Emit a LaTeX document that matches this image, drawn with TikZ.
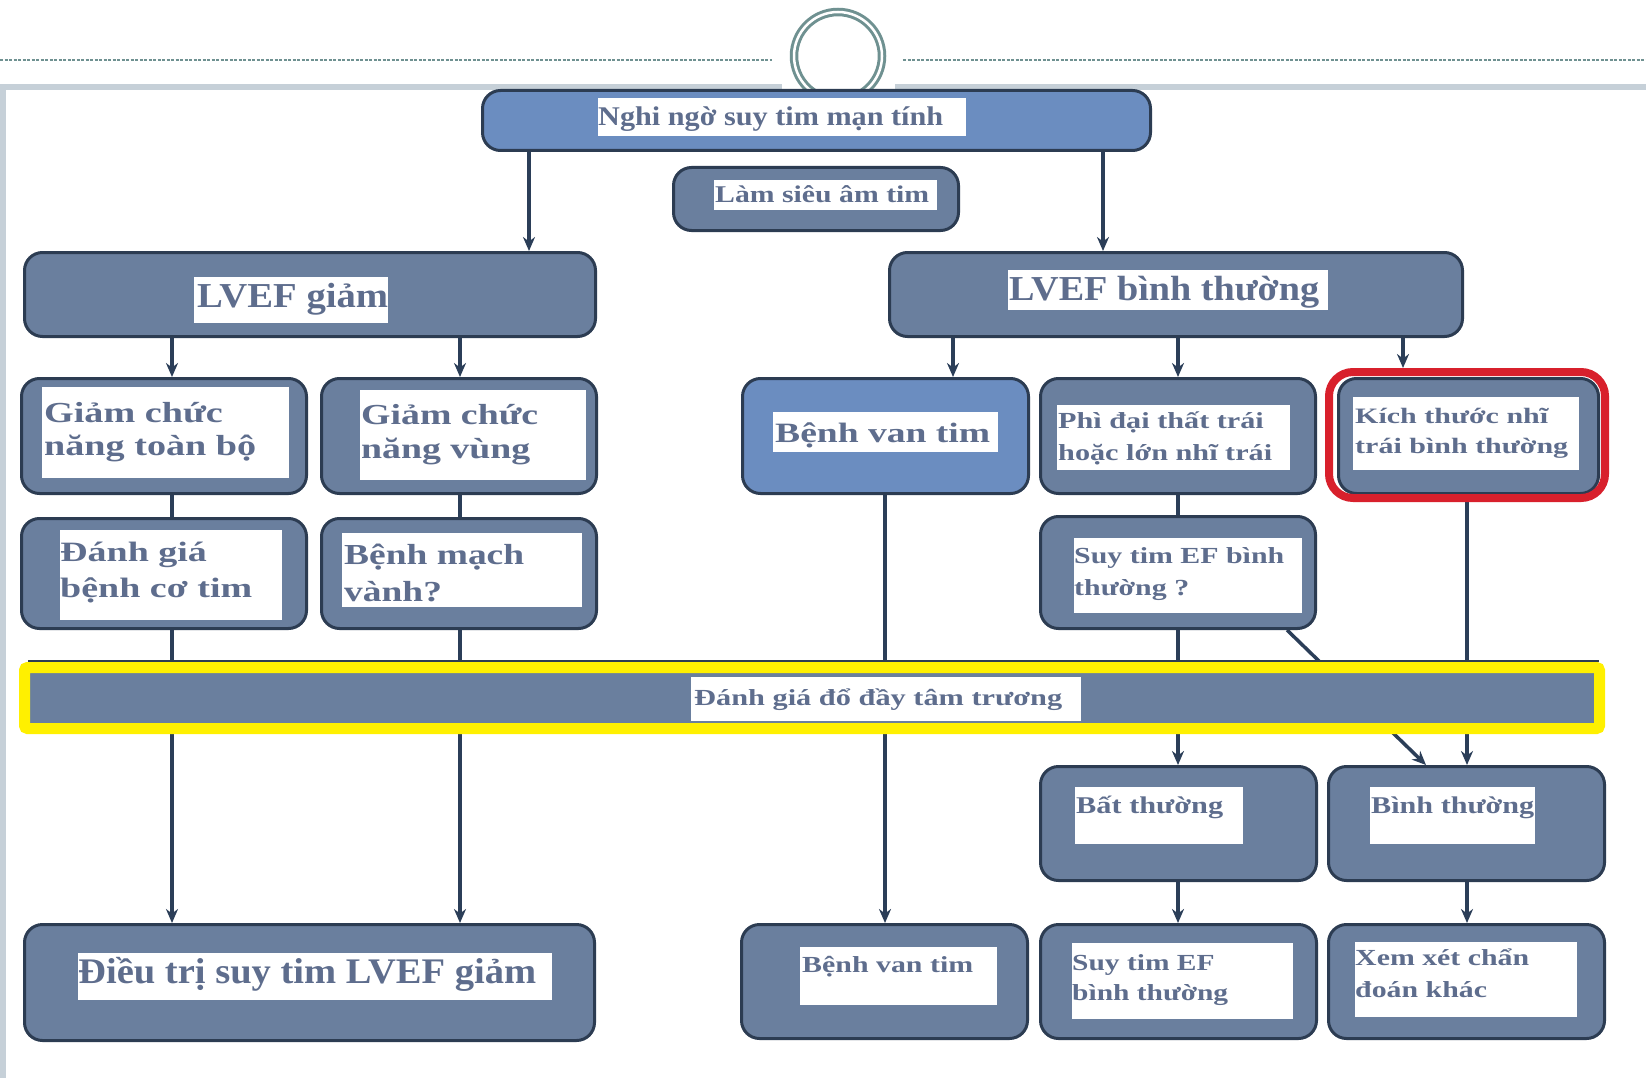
\documentclass[tikz,border=0pt]{standalone}
\usepackage{fontspec}
\setmainfont{Liberation Serif}
\usepackage{graphicx}
\usetikzlibrary{arrows.meta}
\pgfdeclarelayer{back}
\pgfdeclarelayer{bg}
\pgfsetlayers{back,bg,main}
\definecolor{slate}{HTML}{6A7F9E}
\definecolor{lblue}{HTML}{6B8DC0}
\definecolor{bord}{HTML}{2C3C52}
\definecolor{navy}{HTML}{2B3E58}
\definecolor{txtc}{HTML}{5E6D8D}
\definecolor{ringc}{HTML}{6F9191}
\definecolor{bandc}{HTML}{C6D0D8}
\definecolor{ylw}{HTML}{FFF000}
\definecolor{redc}{HTML}{D8202C}
\newcommand\lbl[4]{\resizebox{#3pt}{\height}{\fontsize{#1pt}{#2pt}\selectfont\bfseries\begin{tabular}[t]{@{}l@{}}#4\end{tabular}}}
\begin{document}
\begin{tikzpicture}[x=1pt,y=-1pt,
  sbox/.style={draw=bord, line width=3pt, fill=slate, rounded corners=18pt, inner sep=0pt},
  lbox/.style={sbox, fill=lblue},
  wrect/.style={fill=white, inner sep=0pt},
  lab/.style={anchor=base west, inner sep=0pt, text=txtc},
  arr/.style={draw=navy, line width=3.5pt, -{Stealth[length=14pt,width=12pt]}},
  ln/.style={draw=navy, line width=3.5pt},
  decodash/.style={draw=ringc, line width=1.8pt, dash pattern=on 3pt off 1.5pt},
]
\begin{pgfonlayer}{back}
\fill[white] (0,0) rectangle (1646,1078);
\end{pgfonlayer}
\useasboundingbox (0,0) rectangle (1646,1078);
% slide decoration
\draw[decodash] (0,60) -- (772,60);
\draw[decodash] (903,60) -- (1646,60);
\fill[bandc] (0,84) rectangle (782,90);
\fill[bandc] (895,84) rectangle (1646,90);
\fill[bandc] (0,84) rectangle (6,1078);
\node[circle, draw=ringc, double=white, double distance=2.5pt, line width=3pt, fill=white, minimum size=88pt, inner sep=0pt] (ring) at (838,56) {};

% boxes
\node[lbox, minimum width=668pt, minimum height=60pt] (A) at (816.5,120.5) {};
\node[wrect, minimum width=368pt, minimum height=38pt] (wA) at (782,117) {};
\node[lab] (tA) at (598,126) {\lbl{27}{30}{345}{Nghi ngờ suy tim mạn tính}};

\node[sbox, minimum width=285pt, minimum height=63pt] (B) at (816,199) {};
\node[wrect, minimum width=223pt, minimum height=30pt] (wB) at (825.5,195) {};
\node[lab] (tB) at (715,203) {\lbl{24}{28}{214}{Làm siêu âm tim}};

\node[sbox, minimum width=571pt, minimum height=84pt] (C) at (310,294.5) {};
\node[wrect, minimum width=194pt, minimum height=46pt] (wC) at (291,300) {};
\node[lab] (tC) at (197,307) {\lbl{35}{40}{191}{LVEF giảm}};

\node[sbox, minimum width=573pt, minimum height=84pt] (D) at (1176,294.5) {};
\node[wrect, minimum width=320pt, minimum height=40pt] (wD) at (1168,290) {};
\node[lab] (tD) at (1009,300) {\lbl{35}{40}{310}{LVEF bình thường}};

\node[sbox, minimum width=285pt, minimum height=115pt] (E) at (164,436) {};
\node[wrect, minimum width=247pt, minimum height=91pt] (wE) at (165.5,432.5) {};
\node[lab] (tE) at (44,422) {\lbl{29}{33}{212}{Giảm chức\\năng toàn bộ}};

\node[sbox, minimum width=275pt, minimum height=115pt] (F) at (459,436) {};
\node[wrect, minimum width=226pt, minimum height=90pt] (wF) at (473,435) {};
\node[lab] (tF) at (361,424) {\lbl{29}{34}{177}{Giảm chức\\năng vùng}};

\node[sbox, minimum width=285pt, minimum height=110pt] (G) at (164,573.5) {};
\node[wrect, minimum width=222pt, minimum height=90pt] (wG) at (171,575) {};
\node[lab] (tG) at (60,561) {\lbl{28}{36}{192}{Đánh giá\\bệnh cơ tim}};

\node[sbox, minimum width=275pt, minimum height=110pt] (H) at (459,573.5) {};
\node[wrect, minimum width=240pt, minimum height=74pt] (wH) at (462,570) {};
\node[lab] (tH) at (344,564) {\lbl{29}{37}{180}{Bệnh mạch\\vành?}};

\node[lbox, minimum width=286pt, minimum height=115pt] (I) at (885.5,436) {};
\node[wrect, minimum width=225pt, minimum height=40pt] (wI) at (885.5,432) {};
\node[lab] (tI) at (775,442) {\lbl{28}{32}{215}{Bệnh van tim}};

\node[sbox, minimum width=275pt, minimum height=115pt] (J) at (1178,436) {};
\node[wrect, minimum width=233pt, minimum height=65pt] (wJ) at (1173.5,437.5) {};
\node[lab] (tJ) at (1058,428) {\lbl{23}{32}{214}{Phì đại thất trái\\hoặc lớn nhĩ trái}};

\node[sbox, minimum width=260pt, minimum height=115pt] (K) at (1468.5,436) {};
\node[wrect, minimum width=226pt, minimum height=73pt] (wK) at (1466,433.5) {};
\node[lab] (tK) at (1355,423) {\lbl{22}{30}{213}{Kích thước nhĩ\\trái bình thường}};
\node[draw=redc, line width=8pt, rounded corners=24pt, minimum width=276pt, minimum height=126pt, inner sep=0pt] (Kred) at (1467,435) {};

\node[sbox, minimum width=275pt, minimum height=112pt] (L) at (1178,572.5) {};
\node[wrect, minimum width=228pt, minimum height=75pt] (wL) at (1188,575.5) {};
\node[lab] (tL) at (1074,563) {\lbl{23}{32}{210}{Suy tim EF bình\\thường ?}};

\node[draw=ylw, line width=11pt, fill=slate, rounded corners=3pt, minimum width=1575pt, minimum height=61pt, inner sep=0pt] (M) at (812,698) {};
\draw[draw=bord, line width=1.5pt] ([xshift=9pt,yshift=1pt]M.north west) -- ([xshift=-6pt,yshift=1pt]M.north east);
\node[wrect, minimum width=390pt, minimum height=44pt] (wM) at (886,699) {};
\node[lab] (tM) at (694,705) {\lbl{23}{28}{368}{Đánh giá đổ đầy tâm trương}};

\node[sbox, minimum width=276pt, minimum height=114pt] (N) at (1178.5,823.5) {};
\node[wrect, minimum width=168pt, minimum height=57pt] (wN) at (1159,815.5) {};
\node[lab] (tN) at (1076,813) {\lbl{24}{28}{147}{Bất thường}};

\node[sbox, minimum width=276pt, minimum height=114pt] (O) at (1466.5,823.5) {};
\node[wrect, minimum width=165pt, minimum height=57pt] (wO) at (1452.5,815.5) {};
\node[lab] (tO) at (1371,813) {\lbl{24}{28}{163}{Bình thường}};

\node[sbox, minimum width=570pt, minimum height=116pt] (P) at (309.5,982.5) {};
\node[wrect, minimum width=474pt, minimum height=47pt] (wP) at (315,976.5) {};
\node[lab] (tP) at (78,983) {\lbl{36}{40}{458}{Điều trị suy tim LVEF giảm}};

\node[sbox, minimum width=286pt, minimum height=114pt] (Q) at (884.5,981.5) {};
\node[wrect, minimum width=197pt, minimum height=58pt] (wQ) at (898.5,976) {};
\node[lab] (tQ) at (802,972) {\lbl{23}{28}{171}{Bệnh van tim}};

\node[sbox, minimum width=276pt, minimum height=114pt] (R) at (1178.5,981.5) {};
\node[wrect, minimum width=221pt, minimum height=76pt] (wR) at (1182.5,981) {};
\node[lab] (tR) at (1072,970) {\lbl{23}{30}{156}{Suy tim EF\\bình thường}};

\node[sbox, minimum width=276pt, minimum height=114pt] (S) at (1466.5,981.5) {};
\node[wrect, minimum width=222pt, minimum height=75pt] (wS) at (1466,979.5) {};
\node[lab] (tS) at (1355,965) {\lbl{23}{32}{174}{Xem xét chẩn\\đoán khác}};

% connectors
\begin{pgfonlayer}{bg}
\draw[arr] (529,0 |- A.south) -- (529,0 |- C.north);
\draw[arr] (1103,0 |- A.south) -- (1103,0 |- D.north);
\draw[arr] (172,0 |- C.south) -- (172,0 |- E.north);
\draw[arr] (460,0 |- C.south) -- (460,0 |- F.north);
\draw[ln] (172,0 |- E.south) -- (172,0 |- G.north);
\draw[ln] (460,0 |- F.south) -- (460,0 |- H.north);
\draw[arr] (172,0 |- G.south) -- (172,0 |- P.north);
\draw[arr] (460,0 |- H.south) -- (460,0 |- P.north);
\draw[arr] (953,0 |- D.south) -- (953,0 |- I.north);
\draw[arr] (1178,0 |- D.south) -- (1178,0 |- J.north);
\draw[arr] (1403,0 |- D.south) -- (1403,0 |- Kred.north);
\draw[arr] (885,0 |- I.south) -- (885,0 |- Q.north);
\draw[ln] (1178,0 |- J.south) -- (1178,0 |- L.north);
\draw[arr] (1178,0 |- L.south) -- (1178,0 |- N.north);
\draw[arr] (1287,0 |- L.south) -- (1426,0 |- O.north);
\draw[arr] (1467,0 |- Kred.south) -- (1467,0 |- O.north);
\draw[arr] (1178,0 |- N.south) -- (1178,0 |- R.north);
\draw[arr] (1467,0 |- O.south) -- (1467,0 |- S.north);
\end{pgfonlayer}
\end{tikzpicture}
\end{document}
